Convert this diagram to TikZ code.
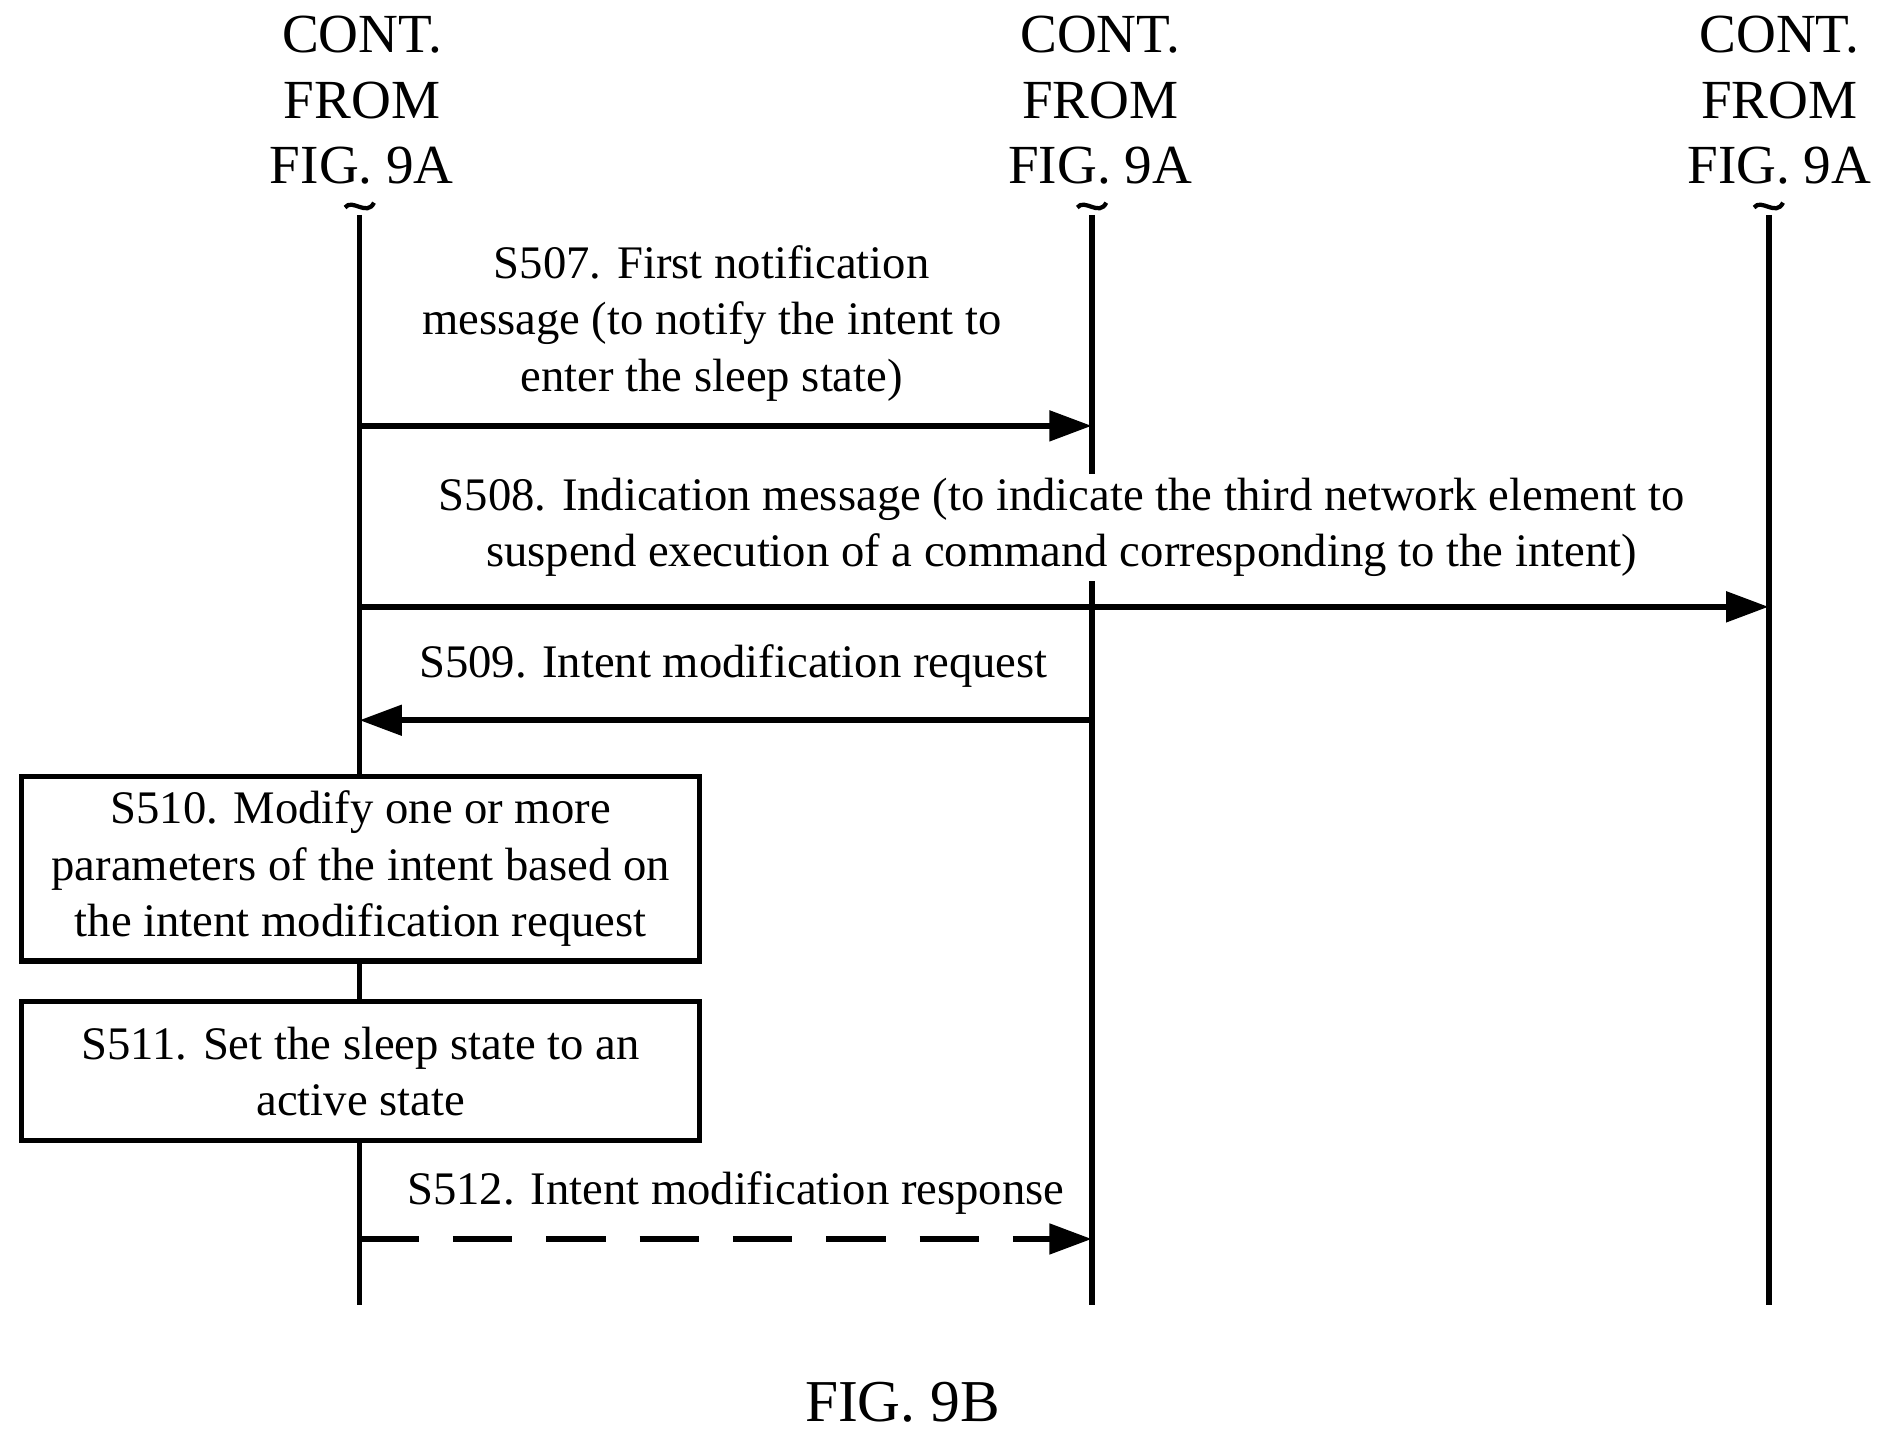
\documentclass[tikz,border=0pt]{standalone}
\usepackage{fontspec}
\setmainfont{Liberation Serif}
\usetikzlibrary{arrows.meta}
\begin{document}
\begin{tikzpicture}[x=0.01cm,y=-0.01cm,
  txt/.style={font=\fontsize{11}{13.3}\selectfont,align=center,inner sep=1pt},
  hdr/.style={font=\fontsize{13}{15.5}\selectfont,align=center},
  life/.style={line width=1.4pt},
  msg/.style={line width=1.4pt,-{Triangle[length=10pt,width=7pt]}},
  box/.style={draw,line width=1.2pt,fill=white,minimum width=5.62cm,align=center,font=\fontsize{11}{13.3}\selectfont}]
\useasboundingbox (0,0) rectangle (1565,1193);
\foreach \n/\x in {a/298,b/905,c/1466}{
  \coordinate (\n top) at (\x,178);
  \coordinate (\n bot) at (\x,1082);
  \draw[life] (\n top) -- (\n bot);
  \draw[line width=1pt] (\x-12,172) .. controls (\x-6,164) and (\x+6,180) .. (\x+12,168);
}
\node[hdr] (h1) at (300,83) {CONT.\\FROM\\FIG. 9A};
\node[hdr] (h2) at (912,83) {CONT.\\FROM\\FIG. 9A};
\node[hdr] (h3) at (1475,83) {CONT.\\FROM\\FIG. 9A};
\coordinate (a507) at (298,353); \coordinate (b507) at (905,353);
\draw[msg] (a507) -- (b507);
\node[txt,fill=white] (t507) at (590,268) {S507. First notification\\message (to notify the intent to\\enter the sleep state)};
\node[txt,fill=white] (t508) at (880,437) {S508. Indication message (to indicate the third network element to\\suspend execution of a command corresponding to the intent)};
\coordinate (a508) at (298,503); \coordinate (c508) at (1466,503);
\draw[msg] (a508) -- (c508);
\node[txt] (t509) at (608,552) {S509. Intent modification request};
\coordinate (a509) at (298,597); \coordinate (b509) at (905,597);
\draw[msg] (b509) -- (a509);
\node[box,minimum height=1.53cm] (s510) at (299,720) {S510. Modify one or more\\parameters of the intent based on\\the intent modification request};
\node[box,minimum height=1.15cm] (s511) at (299,888) {S511. Set the sleep state to an\\active state};
\node[txt] (t512) at (610,989) {S512. Intent modification response};
\coordinate (a512) at (298,1027); \coordinate (b512) at (905,1027);
\draw[msg,dash pattern=on 14pt off 8pt] (a512) -- (b512);
\node[font=\fontsize{14}{17}\selectfont] (fig) at (748,1162) {FIG. 9B};
\end{tikzpicture}
\end{document}
